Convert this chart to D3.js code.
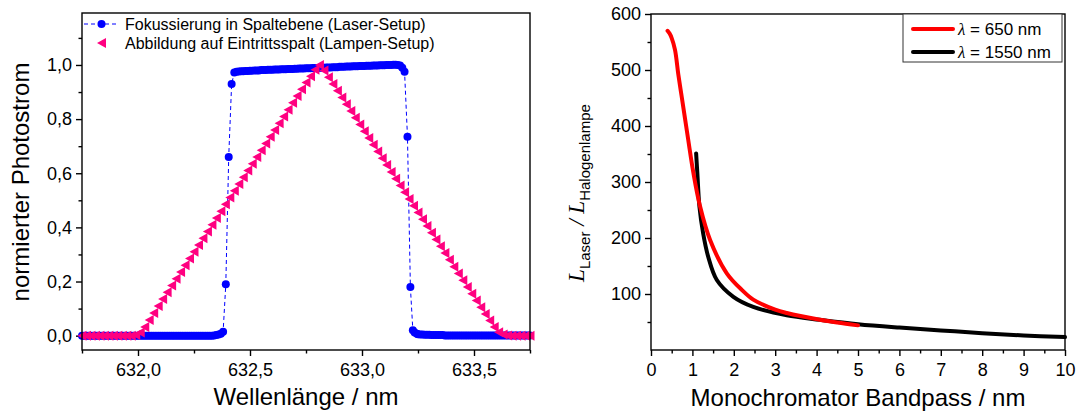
<!DOCTYPE html>
<html><head><meta charset="utf-8">
<script src="https://cdn.jsdelivr.net/npm/d3@7"></script>
<style>
body{margin:0;background:#fff}
svg{display:block}
text{font-family:"Liberation Sans",Arial,sans-serif;fill:#000}
</style>
</head><body>
<svg id="c" width="1080" height="414"></svg>
<script>
// ---------- Left panel data: [wavelength nm, normalised photocurrent] ----------
const laserPts = [
  [631.75,0],[631.76,0],[631.77,0],[631.78,0],[631.79,0],[631.80,0],[631.81,0],[631.82,0],[631.83,0],[631.84,0],
  [631.85,0],[631.86,0],[631.87,0],[631.88,0],[631.89,0],[631.90,0],[631.91,0],[631.92,0],[631.93,0],[631.94,0],
  [631.95,0],[631.96,0],[631.97,0],[631.98,0],[631.99,0],[632.00,0],[632.01,0],[632.02,0],[632.03,0],[632.04,0],
  [632.05,0],[632.06,0],[632.07,0],[632.08,0],[632.09,0],[632.10,0],[632.11,0],[632.12,0],[632.13,0],[632.14,0],
  [632.15,0],[632.16,0],[632.17,0],[632.18,0],[632.19,0],[632.20,0],[632.21,0],[632.22,0],[632.23,0],[632.24,0],
  [632.25,0],[632.26,0],[632.27,0],[632.28,0],[632.29,0],[632.30,0],[632.31,0],[632.32,0],[632.33,0],[632.34,0.001],
  [632.35,0.002],[632.36,0.004],[632.37,0.007],[632.38,0.014],[632.392,0.19],[632.405,0.66],[632.418,0.93],[632.43,0.972],
  [632.44,0.975],[632.45,0.976],[632.46,0.977],[632.47,0.977],[632.48,0.978],[632.49,0.978],[632.50,0.979],[632.51,0.979],
  [632.52,0.980],[632.53,0.980],[632.54,0.980],[632.55,0.981],[632.56,0.981],[632.57,0.981],[632.58,0.982],[632.59,0.982],
  [632.60,0.982],[632.61,0.983],[632.62,0.983],[632.63,0.983],[632.64,0.984],[632.65,0.984],[632.66,0.984],[632.67,0.985],
  [632.68,0.985],[632.69,0.985],[632.70,0.986],[632.71,0.986],[632.72,0.987],[632.73,0.987],[632.74,0.987],[632.75,0.988],
  [632.76,0.988],[632.77,0.988],[632.78,0.989],[632.79,0.989],[632.80,0.989],[632.81,0.990],[632.82,0.990],[632.83,0.990],
  [632.84,0.991],[632.85,0.991],[632.86,0.991],[632.87,0.992],[632.88,0.992],[632.89,0.992],[632.90,0.993],[632.91,0.993],
  [632.92,0.993],[632.93,0.994],[632.94,0.994],[632.95,0.994],[632.96,0.995],[632.97,0.995],[632.98,0.995],[632.99,0.996],
  [633.00,0.996],[633.01,0.996],[633.02,0.997],[633.03,0.997],[633.04,0.997],[633.05,0.998],[633.06,0.998],[633.07,0.998],
  [633.08,0.999],[633.09,0.999],[633.10,0.999],[633.11,1.000],[633.12,1.000],[633.13,1.000],[633.14,1.001],[633.15,1.001],
  [633.16,1.000],[633.17,0.998],[633.18,0.990],[633.19,0.975],[633.203,0.735],[633.216,0.18],[633.227,0.02],[633.235,0.012],
  [633.245,0.007],[633.25,0.005],[633.26,0.004],[633.27,0.004],[633.28,0.003],[633.29,0.003],[633.30,0.003],[633.31,0.002],
  [633.32,0.002],[633.33,0.002],[633.34,0.002],[633.35,0.002],[633.36,0.002],[633.37,0.001],[633.38,0.001],[633.39,0.001],
  [633.40,0.001],[633.41,0.001],[633.42,0.001],[633.43,0.001],[633.44,0.001],[633.45,0.001],[633.46,0.001],[633.47,0.001],
  [633.48,0.001],[633.49,0.001],[633.50,0.001],[633.51,0.001],[633.52,0.001],[633.53,0.001],[633.54,0.001],[633.55,0.001],
  [633.56,0.001],[633.57,0.001],[633.58,0.001],[633.59,0.001],[633.60,0.001],[633.61,0.001],[633.62,0.001],[633.63,0.001],
  [633.64,0.001],[633.65,0.001],[633.66,0.001],[633.67,0.001],[633.68,0.001],[633.69,0.001],[633.70,0.001],[633.71,0.001],
  [633.72,0.001],[633.73,0.001],[633.74,0.001],[633.75,0.001]
];

const lampPts = [
  [631.75,0],[631.77,0],[631.79,0],[631.81,0],[631.83,0],[631.85,0],[631.87,0],[631.89,0],[631.91,0],[631.93,0],
  [631.95,0],[631.97,0],[631.99,0.002],[632.01,0.012],[632.03,0.032],[632.05,0.058],[632.07,0.084],[632.09,0.11],
  [632.11,0.135],[632.13,0.16],[632.15,0.185],[632.17,0.21],[632.19,0.235],[632.21,0.26],[632.23,0.285],[632.25,0.31],
  [632.27,0.335],[632.29,0.36],[632.31,0.385],[632.33,0.41],[632.35,0.435],[632.37,0.46],[632.39,0.485],[632.41,0.51],
  [632.43,0.535],[632.45,0.56],[632.47,0.585],[632.49,0.61],[632.51,0.635],[632.53,0.66],[632.55,0.685],[632.57,0.71],
  [632.59,0.735],[632.61,0.76],[632.63,0.785],[632.65,0.81],[632.67,0.835],[632.69,0.86],[632.71,0.885],[632.73,0.91],
  [632.75,0.935],[632.77,0.958],[632.79,0.982],[632.81,1.0],[632.83,0.98],[632.85,0.955],[632.87,0.93],[632.89,0.905],
  [632.91,0.88],[632.93,0.855],[632.95,0.83],[632.97,0.805],[632.99,0.78],[633.01,0.755],[633.03,0.73],[633.05,0.705],
  [633.07,0.68],[633.09,0.655],[633.11,0.63],[633.13,0.605],[633.15,0.58],[633.17,0.555],[633.19,0.53],[633.21,0.505],
  [633.23,0.48],[633.25,0.455],[633.27,0.43],[633.29,0.405],[633.31,0.38],[633.33,0.355],[633.35,0.33],[633.37,0.305],
  [633.39,0.28],[633.41,0.255],[633.43,0.23],[633.45,0.205],[633.47,0.18],[633.49,0.155],[633.51,0.13],[633.53,0.105],
  [633.55,0.08],[633.57,0.056],[633.59,0.032],[633.61,0.013],[633.63,0.004],[633.65,0.001],[633.67,0],[633.69,0],
  [633.71,0],[633.73,0],[633.75,0]
];

const leftXTicks = [632.0, 632.5, 633.0, 633.5];
const leftXMinor = [631.75, 632.25, 632.75, 633.25, 633.75];
const leftYTicks = [0.0, 0.2, 0.4, 0.6, 0.8, 1.0];
const leftYMinor = [0.1, 0.3, 0.5, 0.7, 0.9, 1.1];
const leftLegend = ["Fokussierung in Spaltebene (Laser-Setup)", "Abbildung auf Eintrittsspalt (Lampen-Setup)"];

// ---------- Right panel data ----------
const redX = [0.40,0.45,0.50,0.58,0.66,0.74,0.82,0.90,1.02,1.18,1.43,1.83,2.20,2.47,3.00,3.28,4.08,4.50,5.00];
const redY = [570,565,557,536,492,453,414,375,318,258,196,137,107,90,72,66,54,49,44];
const blackX = [1.09,1.12,1.17,1.26,1.38,1.59,1.99,2.47,3.28,4.08,5.0,6.0,7.0,8.0,9.0,10.0];
const blackY = [351,315,256,208,167,125,95,77,62,54,46,40,35,30,26,23];
const rightXTicks = [0,1,2,3,4,5,6,7,8,9,10];
const rightXMinor = [0.5,1.5,2.5,3.5,4.5,5.5,6.5,7.5,8.5,9.5];
const rightYTicks = [100,200,300,400,500,600];
const rightYMinor = [50,150,250,350,450,550];
const rightLegend = ["650 nm", "1550 nm"];

const svg = d3.select("#c");
const LW = 1.4;

function styleAxis(g, fs) {
  g.select(".domain").remove();
  g.selectAll("line").attr("stroke", "#000").attr("stroke-width", LW);
  g.selectAll("text").attr("font-size", fs).attr("font-family", '"Liberation Sans",Arial,sans-serif').attr("fill", "#000");
}

// ================= LEFT PANEL =================
const xL = d3.scaleLinear().domain([631.75, 633.75]).range([82, 530]);
const yL = d3.scaleLinear().domain([-0.053, 1.192]).range([350, 13]);
const gL = svg.append("g");
const comma = d => d3.format(".1f")(d).replace(".", ",");

gL.append("g").attr("transform", "translate(0,350)")
  .call(d3.axisBottom(xL).tickValues(leftXTicks).tickSize(6).tickPadding(7).tickFormat(comma))
  .call(g => styleAxis(g, 18));
gL.append("g").attr("transform", "translate(0,350)")
  .call(d3.axisBottom(xL).tickValues(leftXMinor).tickSize(3.5).tickFormat(""))
  .call(g => styleAxis(g, 18));
gL.append("g").attr("transform", "translate(82,0)")
  .call(d3.axisLeft(yL).tickValues(leftYTicks).tickSize(6).tickPadding(4).tickFormat(comma))
  .call(g => styleAxis(g, 18));
gL.append("g").attr("transform", "translate(82,0)")
  .call(d3.axisLeft(yL).tickValues(leftYMinor).tickSize(3.5).tickFormat(""))
  .call(g => styleAxis(g, 18));

gL.append("path").datum(laserPts)
  .attr("d", d3.line().x(d => xL(d[0])).y(d => yL(d[1])))
  .attr("fill", "none").attr("stroke", "#0000ff").attr("stroke-width", 1).attr("stroke-dasharray", "4,3");
gL.append("g").selectAll("circle").data(laserPts).join("circle")
  .attr("cx", d => xL(d[0])).attr("cy", d => yL(d[1])).attr("r", 4).attr("fill", "#0000ff");

const tri = "M-4.5,0L4.5,-5L4.5,5Z";
gL.append("g").selectAll("path").data(lampPts).join("path")
  .attr("d", tri).attr("transform", d => `translate(${xL(d[0])},${yL(d[1])})`).attr("fill", "#ff0080");

gL.append("rect").attr("x", 82).attr("y", 13).attr("width", 448).attr("height", 337)
  .attr("fill", "none").attr("stroke", "#000").attr("stroke-width", LW);

// legend
const lg = gL.append("g");
lg.append("line").attr("x1", 84).attr("x2", 119).attr("y1", 24).attr("y2", 24)
  .attr("stroke", "#0000ff").attr("stroke-width", 1).attr("stroke-dasharray", "4,3");
lg.append("circle").attr("cx", 101.5).attr("cy", 24).attr("r", 4).attr("fill", "#0000ff");
lg.append("path").attr("d", tri).attr("transform", "translate(101.5,43)").attr("fill", "#ff0080");
lg.selectAll("text").data(leftLegend).join("text")
  .attr("x", 125).attr("y", (d, i) => 30 + i * 19).attr("font-size", 16).text(d => d);

gL.append("text").attr("x", 306).attr("y", 405).attr("text-anchor", "middle").attr("font-size", 24).text("Wellenlänge / nm");
gL.append("text").attr("transform", "translate(29,182) rotate(-90)").attr("text-anchor", "middle").attr("font-size", 24).text("normierter Photostrom");

// ================= RIGHT PANEL =================
const xR = d3.scaleLinear().domain([0, 10]).range([651, 1065]);
const yR = d3.scaleLinear().domain([0, 600]).range([350, 14]);
const gR = svg.append("g");

gR.append("g").attr("transform", "translate(0,350)")
  .call(d3.axisBottom(xR).tickValues(rightXTicks).tickSize(6).tickPadding(7).tickFormat(d3.format("d")))
  .call(g => styleAxis(g, 18));
gR.append("g").attr("transform", "translate(0,350)")
  .call(d3.axisBottom(xR).tickValues(rightXMinor).tickSize(3.5).tickFormat(""))
  .call(g => styleAxis(g, 18));
gR.append("g").attr("transform", "translate(651,0)")
  .call(d3.axisLeft(yR).tickValues(rightYTicks).tickSize(6).tickPadding(4).tickFormat(d3.format("d")))
  .call(g => styleAxis(g, 18));
gR.append("g").attr("transform", "translate(651,0)")
  .call(d3.axisLeft(yR).tickValues(rightYMinor).tickSize(3.5).tickFormat(""))
  .call(g => styleAxis(g, 18));

const lineR = d3.line().x(d => xR(d[0])).y(d => yR(d[1])).curve(d3.curveCatmullRom.alpha(0.5));
gR.append("path").datum(blackX.map((x, i) => [x, blackY[i]]))
  .attr("d", lineR).attr("fill", "none").attr("stroke", "#000").attr("stroke-width", 4).attr("stroke-linecap", "round");
gR.append("path").datum(redX.map((x, i) => [x, redY[i]]))
  .attr("d", lineR).attr("fill", "none").attr("stroke", "#ff0000").attr("stroke-width", 4).attr("stroke-linecap", "round");

gR.append("rect").attr("x", 651).attr("y", 14).attr("width", 414).attr("height", 336)
  .attr("fill", "none").attr("stroke", "#000").attr("stroke-width", LW);

// legend
const rl = gR.append("g");
rl.append("rect").attr("x", 903).attr("y", 14).attr("width", 159).attr("height", 48)
  .attr("fill", "#fff").attr("stroke", "#333").attr("stroke-width", 1);
const legColors = ["#ff0000", "#000"];
rightLegend.forEach((t, i) => {
  const yy = 29 + i * 23;
  rl.append("line").attr("x1", 913).attr("x2", 953).attr("y1", yy).attr("y2", yy)
    .attr("stroke", legColors[i]).attr("stroke-width", 4).attr("stroke-linecap", "round");
  const tx = rl.append("text").attr("x", 958).attr("y", yy + 6).attr("font-size", 17);
  tx.append("tspan").attr("font-family", '"Liberation Serif",serif').attr("font-style", "italic").text("λ");
  tx.append("tspan").text(" = " + t);
});

const yt = gR.append("text").attr("transform", "translate(584,193) rotate(-90)").attr("text-anchor", "middle");
yt.append("tspan").attr("font-family", '"Liberation Serif",serif').attr("font-style", "italic").attr("font-size", 23).text("L");
yt.append("tspan").attr("font-size", 15).attr("dy", 6).text("Laser");
yt.append("tspan").attr("font-family", '"Liberation Serif",serif').attr("font-style", "italic").attr("font-size", 23).attr("dy", -6).text(" / L");
yt.append("tspan").attr("font-size", 15).attr("dy", 6).text("Halogenlampe");

gR.append("text").attr("x", 858).attr("y", 406).attr("text-anchor", "middle").attr("font-size", 24).text("Monochromator Bandpass / nm");
</script>
</body></html>
